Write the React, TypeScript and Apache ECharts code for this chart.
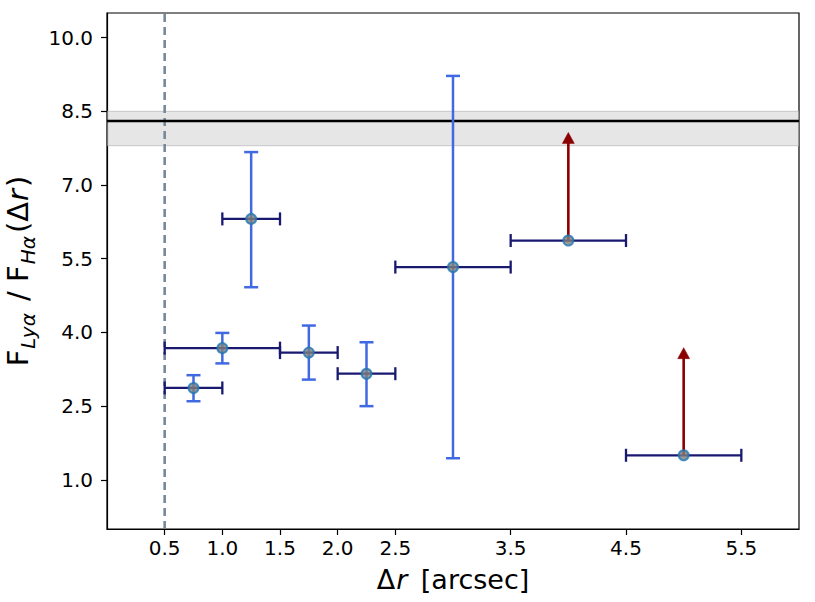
import React, { useEffect, useRef } from "react";
import * as echarts from "echarts";

// ---- data ----
const X_TICKS = [0.5, 1.0, 1.5, 2.0, 2.5, 3.5, 4.5, 5.5];
const Y_TICKS = [1.0, 2.5, 4.0, 5.5, 7.0, 8.5, 10.0];

// measured points: x, y
const PT_X = [0.75, 1.0, 1.25, 1.75, 2.25, 3.0, 4.0, 5.0];
const PT_Y = [2.87, 3.68, 6.31, 3.59, 3.16, 5.33, 5.87, 1.5];
// x bin edges
const X_LO = [0.5, 0.5, 1.0, 1.5, 2.0, 2.5, 3.5, 4.5];
const X_HI = [1.0, 1.5, 1.5, 2.0, 2.5, 3.5, 4.5, 5.5];
// y error ranges (only first six points)
const Y_LO = [2.6, 3.37, 4.92, 3.04, 2.5, 1.44];
const Y_HI = [3.13, 3.99, 7.67, 4.14, 3.8, 9.22];
// lower limits (arrows) for last two points: start y, tip y
const ARROW_X = [4.0, 5.0];
const ARROW_FROM = [5.87, 1.5];
const ARROW_TIP = [8.07, 3.69];

// reference line and band
const REF_LINE = [8.3];
const REF_BAND = [7.8, 8.5];
const VLINE_X = [0.5];

const X_MIN = 0;
const X_MAX = 6;
const Y_MIN = 0;
const Y_MAX = 10.5;

const FONT = "DejaVu Sans";
const TICK_FONT = 20;

const isTick = (list: number[], v: number) => list.some((t) => Math.abs(t - v) < 1e-6);

export default function App() {
  const ref = useRef<HTMLDivElement>(null);

  useEffect(() => {
    if (!ref.current) return;
    const chart = echarts.init(ref.current, null, { renderer: "svg" });

    const xErrData = PT_X.map((x, i) => [x, PT_Y[i], X_LO[i], X_HI[i]]);
    const yErrData = Y_LO.map((lo, i) => [PT_X[i], PT_Y[i], lo, Y_HI[i]]);
    const arrowData = ARROW_X.map((x, i) => [x, ARROW_FROM[i], ARROW_TIP[i]]);
    const ptData = PT_X.map((x, i) => [x, PT_Y[i]]);

    const option: any = {
      animation: false,
      backgroundColor: "#fff",
      textStyle: { fontFamily: FONT, color: "#000" },
      grid: {
        left: 107,
        top: 13,
        width: 692,
        height: 516,
        containLabel: false,
        outerBoundsMode: "none",
        show: true,
        borderColor: "#000",
        borderWidth: 1.2,
        backgroundColor: "transparent",
      },
      xAxis: {
        type: "value",
        min: X_MIN,
        max: X_MAX,
        interval: 0.5,
        splitLine: { show: false },
        axisLine: { show: true, onZero: false, lineStyle: { color: "#000", width: 1.2 } },
        axisTick: {
          show: true,
          length: 6,
          customValues: X_TICKS,
          lineStyle: { color: "#000", width: 1.2 },
        },
        axisLabel: {
          show: true,
          showMinLabel: false,
          showMaxLabel: false,
          hideOverlap: false,
          interval: 0,
          formatter: (v: number) => (isTick(X_TICKS, v) ? v.toFixed(1) : ""),
          fontSize: TICK_FONT,
          fontFamily: FONT,
          color: "#000",
          margin: 9,
        },
        name: "{m|Δ}{mi|r}{m| [arcsec]}",
        nameLocation: "middle",
        nameGap: 35,
        nameTextStyle: {
          fontFamily: FONT,
          fontSize: 27,
          color: "#000",
          rich: {
            m: { fontFamily: FONT, fontSize: 27, color: "#000", lineHeight: 30 },
            mi: {
              fontFamily: FONT,
              fontSize: 27,
              fontStyle: "italic",
              color: "#000",
              lineHeight: 30,
              padding: [0, 5, 0, 1],
            },
          },
        },
      },
      yAxis: {
        type: "value",
        min: Y_MIN,
        max: Y_MAX,
        interval: 0.5,
        splitLine: { show: false },
        axisLine: { show: true, onZero: false, lineStyle: { color: "#000", width: 1.2 } },
        axisTick: {
          show: true,
          length: 6,
          customValues: Y_TICKS,
          lineStyle: { color: "#000", width: 1.2 },
        },
        axisLabel: {
          show: true,
          showMinLabel: false,
          showMaxLabel: false,
          hideOverlap: false,
          interval: 0,
          formatter: (v: number) => (isTick(Y_TICKS, v) ? v.toFixed(1) : ""),
          fontSize: TICK_FONT,
          fontFamily: FONT,
          color: "#000",
          margin: 14,
        },
        name: "{m|F}{s|Lyα}{m| / F}{s|Hα}{m|(Δ}{mi|r}{m|)}",
        nameLocation: "middle",
        nameRotate: 90,
        nameGap: 67,
        nameTextStyle: {
          fontFamily: FONT,
          fontSize: 29,
          color: "#000",
          rich: {
            m: {
              fontFamily: FONT,
              fontSize: 29,
              color: "#000",
              lineHeight: 34,
              verticalAlign: "top",
            },
            mi: {
              fontFamily: FONT,
              fontSize: 29,
              fontStyle: "italic",
              color: "#000",
              lineHeight: 34,
              verticalAlign: "top",
              padding: [0, 2, 0, 1],
            },
            s: {
              fontFamily: FONT,
              fontSize: 20,
              fontStyle: "italic",
              color: "#000",
              lineHeight: 22,
              verticalAlign: "top",
              padding: [14, 3, 0, 1],
            },
          },
        },
      },
      series: [
        {
          // grey band
          type: "custom",
          clip: true,
          silent: true,
          z: 1,
          data: [[X_MIN, REF_BAND[0], X_MAX, REF_BAND[1]]],
          renderItem: (params: any, api: any) => {
            const p1 = api.coord([api.value(0), api.value(3)]);
            const p2 = api.coord([api.value(2), api.value(1)]);
            return {
              type: "rect",
              shape: { x: p1[0], y: p1[1], width: p2[0] - p1[0], height: p2[1] - p1[1] },
              style: { fill: "rgba(200,200,200,0.45)", stroke: "rgba(170,170,170,0.45)", lineWidth: 1.2 },
            };
          },
        },
        {
          // vertical dashed line
          type: "custom",
          clip: true,
          silent: true,
          z: 2,
          data: VLINE_X.map((x) => [x, Y_MIN, Y_MAX]),
          renderItem: (params: any, api: any) => {
            const a = api.coord([api.value(0), api.value(1)]);
            const b = api.coord([api.value(0), api.value(2)]);
            return {
              type: "line",
              shape: { x1: a[0], y1: a[1], x2: b[0], y2: b[1] },
              style: { stroke: "#778899", lineWidth: 2.6, lineDash: [8, 5] },
            };
          },
        },
        {
          // horizontal reference line
          type: "custom",
          clip: true,
          silent: true,
          z: 3,
          data: REF_LINE.map((y) => [X_MIN, X_MAX, y]),
          renderItem: (params: any, api: any) => {
            const a = api.coord([api.value(0), api.value(2)]);
            const b = api.coord([api.value(1), api.value(2)]);
            return {
              type: "line",
              shape: { x1: a[0], y1: a[1], x2: b[0], y2: b[1] },
              style: { stroke: "#000", lineWidth: 2.5 },
            };
          },
        },
        {
          // y error bars
          type: "custom",
          silent: true,
          z: 4,
          data: yErrData,
          renderItem: (params: any, api: any) => {
            const lo = api.coord([api.value(0), api.value(2)]);
            const hi = api.coord([api.value(0), api.value(3)]);
            const c = 7;
            const st = { stroke: "#4169E1", lineWidth: 2.5 };
            return {
              type: "group",
              children: [
                { type: "line", shape: { x1: lo[0], y1: lo[1], x2: hi[0], y2: hi[1] }, style: st },
                { type: "line", shape: { x1: lo[0] - c, y1: lo[1], x2: lo[0] + c, y2: lo[1] }, style: st },
                { type: "line", shape: { x1: hi[0] - c, y1: hi[1], x2: hi[0] + c, y2: hi[1] }, style: st },
              ],
            };
          },
        },
        {
          // x error bars
          type: "custom",
          silent: true,
          z: 5,
          data: xErrData,
          renderItem: (params: any, api: any) => {
            const lo = api.coord([api.value(2), api.value(1)]);
            const hi = api.coord([api.value(3), api.value(1)]);
            const c = 6.5;
            const st = { stroke: "#191970", lineWidth: 2.3 };
            return {
              type: "group",
              children: [
                { type: "line", shape: { x1: lo[0], y1: lo[1], x2: hi[0], y2: hi[1] }, style: st },
                { type: "line", shape: { x1: lo[0], y1: lo[1] - c, x2: lo[0], y2: lo[1] + c }, style: st },
                { type: "line", shape: { x1: hi[0], y1: hi[1] - c, x2: hi[0], y2: hi[1] + c }, style: st },
              ],
            };
          },
        },
        {
          // lower-limit arrows
          type: "custom",
          silent: true,
          z: 6,
          data: arrowData,
          renderItem: (params: any, api: any) => {
            const a = api.coord([api.value(0), api.value(1)]);
            const t = api.coord([api.value(0), api.value(2)]);
            const hl = 11;
            const hw = 6;
            return {
              type: "group",
              children: [
                {
                  type: "line",
                  shape: { x1: a[0], y1: a[1], x2: t[0], y2: t[1] + hl - 1 },
                  style: { stroke: "#8B0000", lineWidth: 2.6 },
                },
                {
                  type: "polygon",
                  shape: {
                    points: [
                      [t[0], t[1]],
                      [t[0] - hw, t[1] + hl],
                      [t[0] + hw, t[1] + hl],
                    ],
                  },
                  style: { fill: "#8B0000", stroke: "#8B0000", lineWidth: 0.5 },
                },
              ],
            };
          },
        },
        {
          type: "scatter",
          z: 7,
          symbol: "circle",
          symbolSize: 10,
          data: ptData,
          itemStyle: { color: "#808080", borderColor: "#1f77b4", borderWidth: 2 },
          silent: true,
        },
      ],
    };

    chart.setOption(option);
    return () => {
      chart.dispose();
    };
  }, []);

  return (
    <div
      ref={ref}
      style={{ position: "fixed", left: 0, top: 0, width: 815, height: 602, background: "#fff" }}
    />
  );
}
